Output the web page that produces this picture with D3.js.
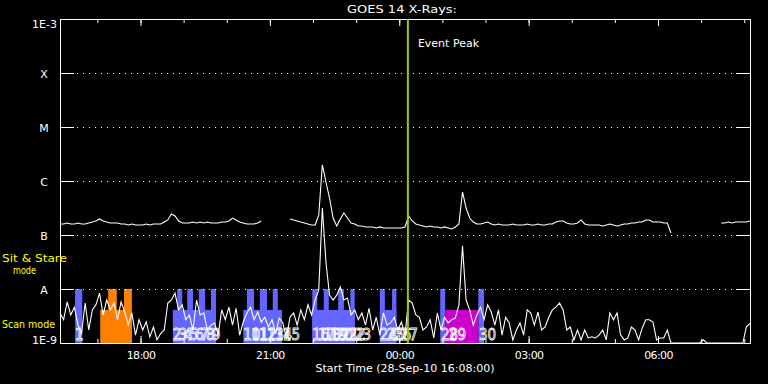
<!DOCTYPE html>
<html><head><meta charset="utf-8">
<script src="https://cdn.jsdelivr.net/npm/d3@7"></script>
<style>
body{margin:0;background:#000;}
svg{display:block;background:#000;}
text{font-family:"DejaVu Sans",sans-serif;}
</style>
</head><body>
<svg id="chart" width="768" height="384"></svg>
<script>
// ---------------- data ----------------
const chartTitle = "GOES 14 X-Rays:";
const xAxisTitle = "Start Time (28-Sep-10 16:08:00)";
const startTime = "2010-09-28T16:08";
const endTime = "2010-09-29T08:08";
const sampleMinutes = 5;
const yTickValues = [1e-9, 1e-8, 1e-7, 1e-6, 1e-5, 1e-4, 1e-3];
const yTickLabels = ["1E-9", "A", "B", "C", "M", "X", "1E-3"];
const eventPeakTime = "2010-09-29T00:12";
const eventPeakLabel = "Event Peak";
const modeLabels = [["Sit & Stare", "mode"], ["Scan mode"]];

// 1-8 A channel, units of 1e-7 W/m^2, every 5 min from 16:08 (null = no data)
const longChannel = [1.60,1.60,1.67,1.60,1.60,1.67,1.60,1.60,1.67,1.74,1.82,1.98,1.82,1.74,1.67,1.67,1.67,1.60,1.60,1.53,
1.60,1.53,1.53,1.53,1.60,1.53,1.60,1.60,1.60,1.74,1.90,2.45,2.25,1.82,1.67,1.67,1.67,1.74,1.67,1.74,
1.67,1.74,1.67,1.67,1.67,1.74,1.74,1.82,2.06,1.90,1.74,1.67,1.60,1.60,1.60,1.67,1.82,null,null,null,
null,null,null,null,1.98,1.90,1.82,1.74,1.67,1.60,1.53,1.53,2.35,19.8,9.58,4.84,2.06,1.47,1.98,2.56,
2.06,1.67,1.60,1.47,1.47,1.41,1.41,1.41,1.35,1.41,1.35,1.35,1.35,1.35,1.35,1.35,1.41,2.25,1.82,1.60,
1.53,1.47,1.41,1.47,1.41,1.41,1.35,1.41,1.35,1.29,1.41,1.60,6.26,3.16,2.06,1.74,1.60,1.60,1.67,1.74,
1.60,1.53,1.60,1.53,1.53,1.53,1.60,1.53,1.53,1.53,1.60,1.53,1.53,1.60,1.53,1.53,1.60,1.60,1.74,1.82,
1.82,1.67,1.60,1.60,1.67,1.90,1.60,1.53,1.53,1.53,1.53,1.47,1.53,1.60,1.53,1.47,1.53,1.60,1.60,1.67,
1.67,1.74,1.74,1.90,1.90,1.74,1.74,1.74,1.67,1.67,1.09,null,null,null,null,null,null,null,null,null,
null,null,null,null,1.67,1.67,1.74,1.67,1.74,1.74,1.74,1.74,1.82];

// 0.5-4 A channel, units of 1e-9 W/m^2, every 5 min from 16:08
const shortChannel = [3.6,2.7,5.8,3.3,4.6,2.15,1.5,5.5,1.74,4.1,5.1,8.4,3.3,6.25,4.1,5.5,2.7,5.8,3.75,2.15,
3.6,1.4,2.7,1.74,2.45,1.3,1.98,1.14,1.5,1.74,5.5,6.25,8.4,4.1,5.1,2.7,3.3,1.74,6.25,3.3,
3.6,1.74,2.15,2.35,1.4,4.1,2.7,4.6,2.15,4.4,1.4,2.45,3.6,4.6,2.7,3.75,2.45,3.0,1.98,2.7,
1.5,2.9,2.35,1.24,3.0,3.6,2.15,4.1,2.7,5.1,3.3,6.25,9.6,316,31.6,7.7,6.25,7.7,10.9,6.25,
6.8,3.3,4.1,2.7,3.6,2.15,4.4,1.74,3.0,1.4,3.6,2.15,2.35,3.0,1.74,2.45,1.4,6.25,5.5,3.3,
3.0,1.74,1.98,2.7,1.24,3.6,1.74,3.0,2.35,2.7,2.9,5.1,62.8,6.25,4.1,2.15,3.3,4.6,2.7,5.1,
3.75,2.15,4.1,1.4,3.0,2.35,1.14,1.74,2.35,1.4,4.1,3.6,2.15,3.75,1.74,1.98,3.0,4.1,4.6,5.5,
4.1,1.74,1.98,1.14,1.74,1.14,1.74,1.24,1.3,1.24,1.4,1.74,1.14,3.6,2.7,3.6,1.4,1.14,1.24,1.98,
1.74,1.14,1.9,2.7,2.7,2.45,1.14,1.24,1.24,1.74,0.5,0.5,0.5,0.5,0.5,0.5,0.5,0.5,0.5,1.15,
0.5,0.5,0.5,0.5,0.5,0.5,0.5,0.5,0.5,0.5,0.5,2.0,2.3];

// observing-mode bars
const blueLowBars = [["2010-09-28T18:45","2010-09-28T19:45"],["2010-09-28T20:23","2010-09-28T21:17"],
  ["2010-09-28T21:59","2010-09-28T22:58"],["2010-09-28T23:33","2010-09-28T23:56"]];
const blueHighBars = [["2010-09-28T16:29","2010-09-28T16:39"],["2010-09-28T18:51","2010-09-28T18:58"],
  ["2010-09-28T19:05","2010-09-28T19:13"],["2010-09-28T19:21","2010-09-28T19:30"],["2010-09-28T19:38","2010-09-28T19:45"],
  ["2010-09-28T20:28","2010-09-28T20:38"],["2010-09-28T20:46","2010-09-28T20:56"],["2010-09-28T21:04","2010-09-28T21:11"],
  ["2010-09-28T21:59","2010-09-28T22:06"],["2010-09-28T22:15","2010-09-28T22:22"],["2010-09-28T22:35","2010-09-28T22:43"],
  ["2010-09-28T22:52","2010-09-28T22:58"],["2010-09-28T23:33","2010-09-28T23:40"],["2010-09-28T23:50","2010-09-28T23:56"],
  ["2010-09-29T00:57","2010-09-29T01:04"],["2010-09-29T01:50","2010-09-29T01:58"]];
const orangeLowBars = [["2010-09-28T17:04","2010-09-28T17:48"]];
const orangeHighBars = [["2010-09-28T17:15","2010-09-28T17:27"],["2010-09-28T17:37","2010-09-28T17:48"]];
const magentaLowBars = [["2010-09-29T01:04","2010-09-29T01:50"]];
const barHighLevel = 1e-8;
const barLowLevel = 4.1e-9;

const eventNumbers = ["1","2","3","4","5","6","7","8","9","10","11","12","13","14","15",
  "16","17","18","19","20","21","22","23","24","25","26","27","28","29","30"];
const eventTimes = ["2010-09-28T16:29","2010-09-28T18:45","2010-09-28T18:53","2010-09-28T19:00","2010-09-28T19:08",
  "2010-09-28T19:16","2010-09-28T19:23","2010-09-28T19:31","2010-09-28T19:39","2010-09-28T20:23","2010-09-28T20:34",
  "2010-09-28T20:45","2010-09-28T20:56","2010-09-28T21:07","2010-09-28T21:18","2010-09-28T21:59","2010-09-28T22:07",
  "2010-09-28T22:15","2010-09-28T22:24","2010-09-28T22:32","2010-09-28T22:40","2010-09-28T22:49","2010-09-28T22:57",
  "2010-09-28T23:33","2010-09-28T23:43","2010-09-28T23:53","2010-09-29T00:02","2010-09-29T00:58","2010-09-29T01:09",
  "2010-09-29T01:51"];

// ---------------- drawing ----------------
const parse = d3.timeParse("%Y-%m-%dT%H:%M");
const t0 = parse(startTime), t1 = parse(endTime);
const svg = d3.select("#chart");
const L = 60, R = 750, T = 19, B = 343;

const x = d3.scaleTime().domain([t0, t1]).range([L, R]);
const y = d3.scaleLog().domain([1e-9, 1e-3]).range([B, T]).clamp(true);

const timeAt = i => d3.timeMinute.offset(t0, i * sampleMinutes);

// bars
function drawBars(list, level, color) {
  svg.append("g").selectAll("rect").data(list).join("rect")
    .attr("x", d => x(parse(d[0])))
    .attr("width", d => x(parse(d[1])) - x(parse(d[0])))
    .attr("y", y(level))
    .attr("height", B - y(level))
    .attr("fill", color);
}
drawBars(blueLowBars, barLowLevel, "#6464ff");
drawBars(blueHighBars, barHighLevel, "#6464ff");
drawBars(orangeLowBars, barLowLevel, "#ff8000");
drawBars(orangeHighBars, barHighLevel, "#ff8000");
drawBars(magentaLowBars, barLowLevel, "#cc00cc");

// event numbers
svg.append("g").selectAll("text").data(eventNumbers).join("text")
  .attr("x", (d, i) => x(parse(eventTimes[i])))
  .attr("y", 340)
  .attr("font-size", 15)
  .style("font-family", "'DejaVu Sans Condensed','Liberation Sans Narrow','DejaVu Sans',sans-serif")
  .attr("fill", "none").attr("stroke", "#fff").attr("stroke-width", 0.8)
  .text(d => d);

// gridlines (dotted)
svg.append("g").selectAll("line").data(yTickValues.slice(1, -1)).join("line")
  .attr("x1", L + 14).attr("x2", R - 14)
  .attr("y1", d => Math.round(y(d)) + 0.5).attr("y2", d => Math.round(y(d)) + 0.5)
  .attr("stroke", "#fff").attr("stroke-width", 1).attr("stroke-dasharray", "1,5")
  .attr("stroke-dashoffset", -3);

// data lines
const line = d3.line().defined(d => d.v != null).x(d => x(d.t)).y(d => y(d.v));
const longData = longChannel.map((v, i) => ({t: timeAt(i), v: v == null ? null : v * 1e-7}));
const shortData = shortChannel.map((v, i) => ({t: timeAt(i), v: v == null ? null : v * 1e-9}));
svg.append("path").datum(shortData).attr("d", line).attr("fill", "none").attr("stroke", "#fff").attr("stroke-width", 1.1);
svg.append("path").datum(longData).attr("d", line).attr("fill", "none").attr("stroke", "#fff").attr("stroke-width", 1.1);

// axes
const yl = svg.append("g").attr("transform", `translate(${L},0)`).attr("color", "#fff")
  .call(d3.axisLeft(y).tickValues(yTickValues).tickSize(-14).tickSizeOuter(0).tickPadding(3)
    .tickFormat((d, i) => yTickLabels[i]));
yl.selectAll("text").attr("font-size", 11).attr("fill", "#fff").style("font-family", "'DejaVu Sans',sans-serif")
  .each(function(d, i) {
    const s = d3.select(this);
    if (i === 0) s.attr("dy", "0em");
    else if (i === yTickValues.length - 1) s.attr("dy", "8px");
    else s.attr("x", -16).attr("text-anchor", "middle").attr("dy", "0.4em");
  });
svg.append("g").attr("transform", `translate(${R},0)`).attr("color", "#fff")
  .call(d3.axisRight(y).tickValues(yTickValues).tickSize(-14).tickSizeOuter(0).tickFormat(""));

svg.append("g").attr("transform", `translate(0,${T})`).attr("color", "#fff")
  .call(d3.axisBottom(x).ticks(d3.timeHour.every(1)).tickSize(4).tickSizeOuter(0).tickFormat(""));
svg.append("g").attr("transform", `translate(0,${T})`).attr("color", "#fff")
  .call(d3.axisBottom(x).ticks(d3.timeHour.every(3)).tickSize(7).tickSizeOuter(0).tickFormat(""));
svg.append("g").attr("transform", `translate(0,${B})`).attr("color", "#fff")
  .call(d3.axisTop(x).ticks(d3.timeHour.every(1)).tickSize(4).tickSizeOuter(0).tickFormat(""));
const xb = svg.append("g").attr("transform", `translate(0,${B})`).attr("color", "#fff")
  .call(d3.axisBottom(x).ticks(d3.timeHour.every(3)).tickSize(-7).tickSizeOuter(0).tickPadding(8)
    .tickFormat(d3.timeFormat("%H:%M")));
xb.selectAll("text").attr("font-size", 11).attr("fill", "#fff").style("font-family", "'DejaVu Sans',sans-serif").attr("letter-spacing", "-0.6px");

// event peak line
const xe = x(parse(eventPeakTime));
svg.append("line").attr("x1", xe).attr("x2", xe).attr("y1", T).attr("y2", B)
  .attr("stroke", "#99cc00").attr("stroke-width", 2);
svg.append("text").attr("x", xe + 10).attr("y", 47).attr("fill", "#fff").attr("font-size", 11).text(eventPeakLabel);

// titles
svg.append("text").attr("x", 347).attr("y", 13)
  .attr("textLength", 110).attr("lengthAdjust", "spacingAndGlyphs")
  .attr("fill", "#fff").attr("font-size", 11).text(chartTitle);
svg.append("text").attr("x", (L + R) / 2).attr("y", 372).attr("text-anchor", "middle")
  .attr("fill", "#fff").attr("font-size", 11).text(xAxisTitle);

// mode labels
svg.append("text").attr("x", 2).attr("y", 262).attr("textLength", 65).attr("lengthAdjust", "spacingAndGlyphs")
  .attr("fill", "#ffff00").attr("font-size", 11).text(modeLabels[0][0]);
svg.append("text").attr("x", 13).attr("y", 274).attr("textLength", 23).attr("lengthAdjust", "spacingAndGlyphs")
  .attr("fill", "#ffff00").attr("font-size", 11).text(modeLabels[0][1]);
svg.append("text").attr("x", 2).attr("y", 328).attr("textLength", 53).attr("lengthAdjust", "spacingAndGlyphs")
  .attr("fill", "#ffff00").attr("font-size", 11).text(modeLabels[1][0]);
</script>
</body></html>
